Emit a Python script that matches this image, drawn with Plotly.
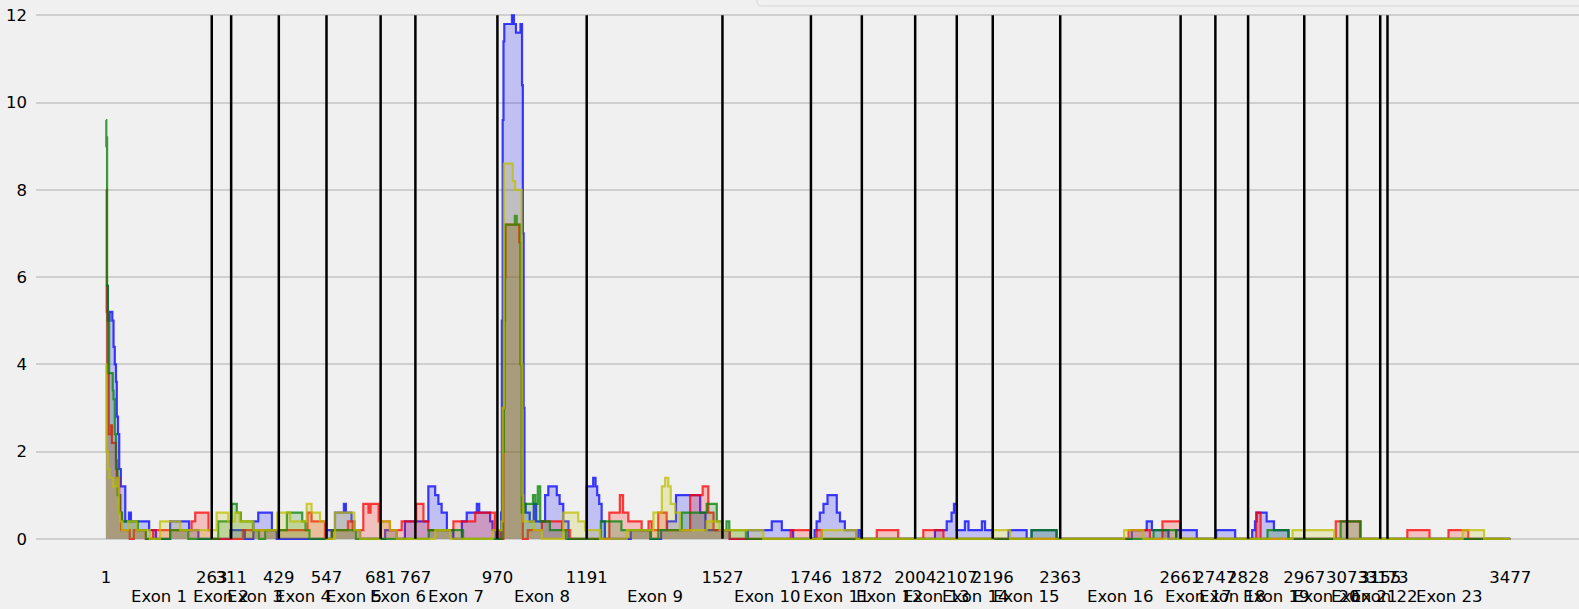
import plotly.graph_objects as go

# Exon boundaries (tick positions) and exon labels
boundaries = [1, 263, 311, 429, 547, 681, 767, 970, 1191, 1527, 1746, 1872, 2004,
              2107, 2196, 2363, 2661, 2747, 2828, 2967, 3073, 3155, 3173, 3477]
exon_labels = ["Exon 1", "Exon 2", "Exon 3", "Exon 4", "Exon 5", "Exon 6", "Exon 7",
               "Exon 8", "Exon 9", "Exon 10", "Exon 11", "Exon 12", "Exon 13",
               "Exon 14", "Exon 15", "Exon 16", "Exon 17", "Exon 18", "Exon 19",
               "Exon 20", "Exon 21", "Exon 22", "Exon 23"]
y_ticks = [0, 2, 4, 6, 8, 10, 12]

# Step series: (start position, value) -- value holds until next start
blue_steps = [(1, 5.8), (6, 5.0), (10, 5.2), (17, 5.0), (20, 4.4), (23, 4.0), (26, 3.6), (28, 2.8),
              (31, 2.4), (34, 1.6), (38, 1.2), (49, 0.4), (58, 0.6), (63, 0.4), (108, 0.2), (125, 0.0),
              (160, 0.4), (207, 0.2), (230, 0.0), (309, 0.2), (345, 0.0), (366, 0.4), (378, 0.6),
              (412, 0.2), (424, 0.0), (547, 0.2), (568, 0.6), (590, 0.8), (595, 0.6), (609, 0.4),
              (616, 0.2), (630, 0.0), (692, 0.2), (721, 0.0), (741, 0.4), (799, 1.2), (816, 1.0),
              (824, 0.8), (832, 0.6), (845, 0.2), (861, 0.0), (882, 0.4), (894, 0.6), (919, 0.8),
              (925, 0.6), (952, 0.4), (958, 0.2), (966, 0.0), (979, 0.6), (981, 5.0), (983, 9.6),
              (985, 11.4), (987, 11.8), (1006, 12.0), (1011, 11.8), (1016, 11.6), (1027, 11.8),
              (1031, 10.4), (1033, 7.0), (1035, 3.0), (1037, 0.8), (1040, 0.6), (1050, 0.4),
              (1060, 0.8), (1066, 0.4), (1088, 1.0), (1096, 1.2), (1117, 1.0), (1124, 0.8),
              (1133, 0.4), (1146, 0.0), (1191, 1.2), (1207, 1.4), (1213, 1.2), (1217, 1.0),
              (1222, 0.8), (1228, 0.4), (1236, 0.0), (1300, 0.2), (1350, 0.0), (1375, 0.2),
              (1390, 0.4), (1412, 1.0), (1472, 0.6), (1485, 0.2), (1545, 0.0), (1590, 0.2),
              (1649, 0.4), (1674, 0.2), (1702, 0.0), (1755, 0.2), (1760, 0.4), (1768, 0.6),
              (1777, 0.8), (1787, 1.0), (1810, 0.6), (1818, 0.4), (1830, 0.2), (1859, 0.0),
              (1864, 0.2), (1870, 0.0), (2053, 0.2), (2082, 0.4), (2094, 0.6), (2100, 0.8),
              (2107, 0.2), (2127, 0.4), (2136, 0.2), (2169, 0.4), (2177, 0.2), (2196, 0.0),
              (2235, 0.2), (2280, 0.0), (2292, 0.2), (2354, 0.0), (2540, 0.2), (2577, 0.4),
              (2590, 0.2), (2631, 0.0), (2650, 0.2), (2701, 0.0), (2749, 0.2), (2796, 0.0),
              (2838, 0.2), (2845, 0.4), (2849, 0.6), (2874, 0.4), (2892, 0.2), (2928, 0.0),
              (3477, 0.0)]

red_steps = [(1, 8.0), (3, 5.2), (5, 3.8), (8, 2.4), (14, 2.6), (16, 2.2), (26, 1.8), (28, 1.4),
             (34, 1.0), (37, 0.6), (39, 0.2), (60, 0.0), (70, 0.2), (100, 0.0), (118, 0.2),
             (213, 0.4), (222, 0.6), (255, 0.2), (263, 0.0), (340, 0.2), (500, 0.6), (510, 0.4),
             (543, 0.0), (560, 0.2), (600, 0.4), (612, 0.2), (638, 0.8), (651, 0.6), (656, 0.8),
             (676, 0.4), (704, 0.2), (733, 0.4), (769, 0.8), (787, 0.4), (799, 0.2), (861, 0.4),
             (915, 0.6), (964, 0.2), (975, 0.0), (985, 3.0), (988, 6.0), (990, 7.2), (1024, 6.8),
             (1028, 4.0), (1031, 1.0), (1033, 0.0), (1045, 0.2), (1080, 0.4), (1130, 0.2),
             (1150, 0.0), (1247, 0.6), (1273, 1.0), (1281, 0.6), (1294, 0.4), (1327, 0.2),
             (1344, 0.4), (1352, 0.2), (1368, 0.6), (1389, 0.2), (1447, 1.0), (1478, 1.2),
             (1492, 0.6), (1505, 0.2), (1545, 0.0), (1696, 0.2), (1744, 0.0), (1760, 0.2),
             (1773, 0.0), (1909, 0.2), (1962, 0.0), (2024, 0.2), (2074, 0.0), (2532, 0.2),
             (2585, 0.0), (2616, 0.4), (2660, 0.0), (2848, 0.6), (2859, 0.0), (3045, 0.4),
             (3105, 0.0), (3222, 0.2), (3277, 0.0), (3324, 0.2), (3373, 0.0), (3477, 0.0)]

green_steps = [(1, 9.6), (2, 9.0), (3, 9.2), (4, 5.8), (6, 5.0), (9, 3.8), (18, 3.4), (20, 3.2),
               (23, 2.4), (26, 1.6), (30, 1.0), (35, 0.6), (41, 0.4), (80, 0.2), (100, 0.0),
               (160, 0.2), (205, 0.0), (279, 0.4), (312, 0.8), (325, 0.6), (335, 0.4), (365, 0.2),
               (380, 0.0), (395, 0.2), (449, 0.6), (487, 0.4), (495, 0.2), (505, 0.0), (560, 0.2),
               (620, 0.0), (800, 0.2), (885, 0.0), (983, 2.0), (986, 5.0), (989, 7.2), (1013, 7.4),
               (1018, 7.2), (1027, 4.0), (1030, 0.6), (1036, 0.8), (1058, 1.0), (1064, 0.8),
               (1070, 1.2), (1076, 0.4), (1100, 0.2), (1140, 0.0), (1226, 0.4), (1277, 0.2),
               (1348, 0.0), (1368, 0.2), (1426, 0.6), (1488, 0.8), (1513, 0.4), (1527, 0.2),
               (1537, 0.4), (1544, 0.2), (1585, 0.0), (2292, 0.2), (2354, 0.0), (2594, 0.2),
               (2650, 0.0), (2876, 0.2), (2928, 0.0), (3057, 0.4), (3107, 0.0), (3477, 0.0)]

yellow_steps = [(1, 4.0), (2, 2.0), (6, 1.6), (10, 1.4), (19, 1.2), (29, 1.4), (33, 0.6), (36, 0.4),
                (41, 0.2), (56, 0.4), (77, 0.2), (110, 0.0), (135, 0.4), (185, 0.2), (275, 0.6),
                (304, 0.4), (320, 0.6), (332, 0.4), (366, 0.2), (425, 0.6), (457, 0.4), (498, 0.8),
                (510, 0.6), (531, 0.4), (547, 0.0), (568, 0.6), (616, 0.2), (630, 0.0), (679, 0.4),
                (704, 0.2), (721, 0.0), (816, 0.2), (853, 0.0), (958, 0.2), (980, 0.4), (983, 3.0),
                (986, 8.6), (1008, 8.2), (1014, 8.0), (1030, 4.0), (1032, 1.0), (1034, 0.4),
                (1060, 0.2), (1080, 0.0), (1133, 0.6), (1170, 0.4), (1187, 0.2), (1224, 0.0),
                (1290, 0.2), (1356, 0.6), (1377, 1.2), (1385, 1.4), (1393, 1.2), (1399, 0.8),
                (1410, 0.6), (1422, 0.2), (1488, 0.4), (1520, 0.2), (1628, 0.0), (1773, 0.2),
                (1859, 0.0), (2197, 0.2), (2239, 0.0), (2521, 0.2), (2569, 0.0), (2938, 0.2),
                (3041, 0.0), (3359, 0.2), (3412, 0.0), (3477, 0.0)]

series = [
    (blue_steps, "rgba(0,0,255,0.75)", "rgba(0,0,255,0.2)"),
    (red_steps, "rgba(255,0,0,0.75)", "rgba(255,0,0,0.2)"),
    (green_steps, "rgba(0,128,0,0.75)", "rgba(0,128,0,0.2)"),
    (yellow_steps, "rgba(191,191,0,0.75)", "rgba(191,191,0,0.2)"),
]

FONT = "DejaVu Sans"
FS = 16.5
fig = go.Figure()
ymax = 0
for steps, lc, fc in series:
    xs = [s[0] for s in steps]
    ys = [s[1] for s in steps]
    ymax = max(ymax, max(ys))
    fig.add_trace(go.Scatter(x=xs, y=ys, mode="lines",
                             line=dict(shape="hv", color=lc, width=2.2),
                             fill="tozeroy", fillcolor=fc,
                             showlegend=False, hoverinfo="skip"))

for b in boundaries[1:-1]:
    fig.add_shape(type="line", xref="x", yref="y", x0=b, x1=b, y0=0, y1=ymax,
                  line=dict(color="black", width=2.5), layer="above")

for i, lab in enumerate(exon_labels):
    mid = (boundaries[i] + boundaries[i + 1]) / 2
    fig.add_annotation(x=mid, y=0, xref="x", yref="paper", text=lab, showarrow=False,
                       yanchor="middle", yshift=-31,
                       font=dict(family=FONT, size=FS, color="#000000"))

# partially visible legend frame at top right (cut off in original)
W, H = 1579 - 36, 565
x0 = (757 - 36) / W
y0 = (H - 6) / H
rx, ry = 5 / W, 5 / H
fig.add_shape(type="path", xref="paper", yref="paper",
              path=f"M {x0},1.2 L {x0},{y0 + ry} Q {x0},{y0} {x0 + rx},{y0} L 1.05,{y0} L 1.05,1.2 Z",
              line=dict(color="#d6d6d6", width=1), fillcolor="#f0f0f0", layer="above")

fig.update_layout(
    width=1579, height=609,
    margin=dict(l=36, r=0, t=0, b=44, pad=0),
    paper_bgcolor="#f0f0f0", plot_bgcolor="#f0f0f0",
    font=dict(family=FONT, size=FS, color="#000000"),
    xaxis=dict(range=[-172, 3647], tickmode="array", tickvals=boundaries,
               ticktext=[str(b) for b in boundaries], showgrid=False, zeroline=False,
               showline=False, ticks="", automargin=False, tickangle=0,
               tickfont=dict(family=FONT, size=FS, color="#000000")),
    yaxis=dict(range=[-0.6, 12.35], tickmode="array", tickvals=y_ticks,
               ticktext=[str(v) for v in y_ticks], showgrid=True, gridcolor="#cfcfcf",
               gridwidth=1.6, zeroline=False, showline=False, ticks="", automargin=False,
               ticklabelstandoff=8,
               tickfont=dict(family=FONT, size=FS, color="#000000")),
)

fig.write_html("out.html", config={"displayModeBar": False},
               post_script="document.body.style.margin='0';document.body.style.overflow='hidden';")
